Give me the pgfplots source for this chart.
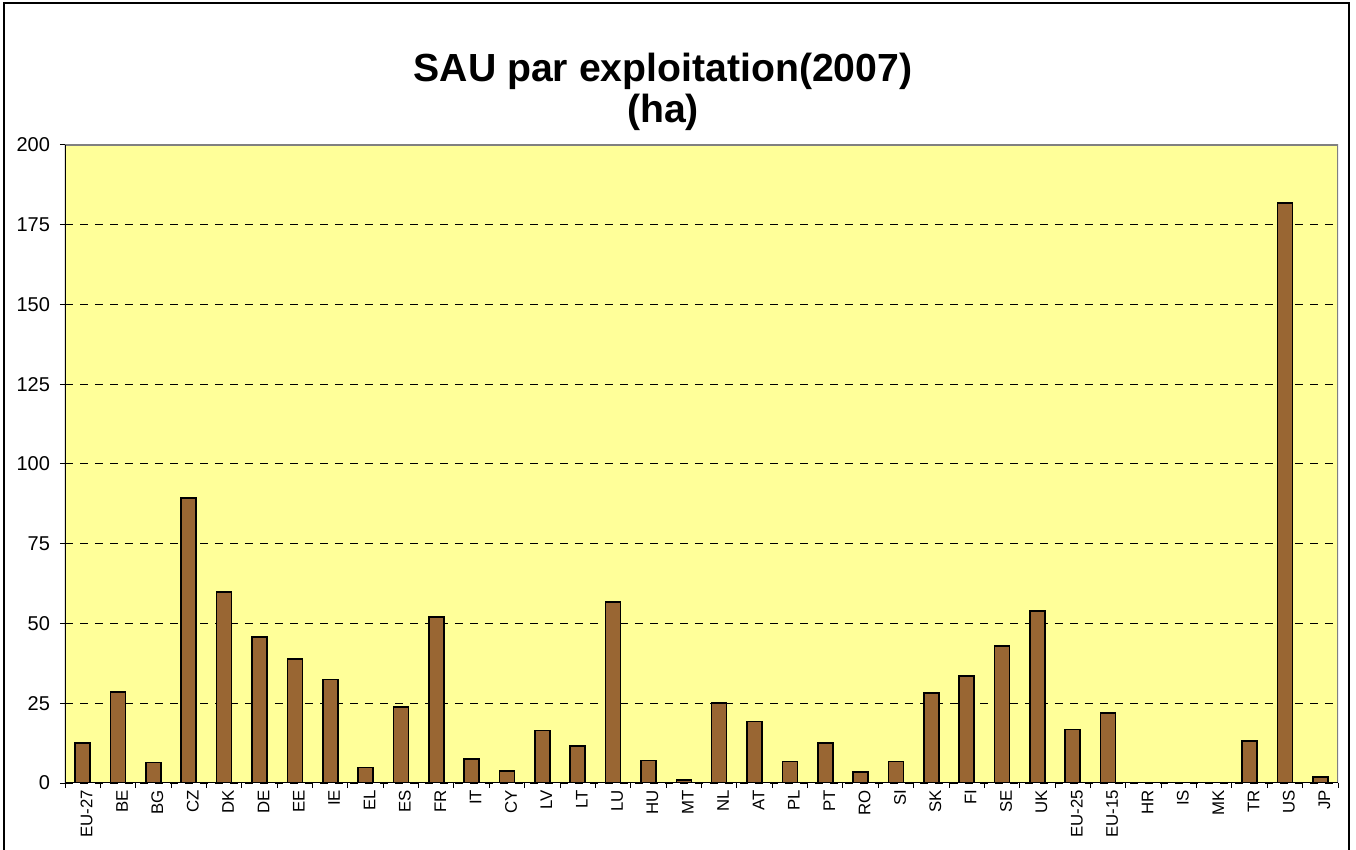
\documentclass[border=0pt]{standalone}
\usepackage{pgfplots}
\pgfplotsset{compat=1.18}
\usepackage{fontspec}
\setmainfont{Liberation Sans}
\definecolor{barbrown}{HTML}{996633}
\definecolor{plotbg}{HTML}{FFFF99}
\definecolor{framegray}{HTML}{808080}

\begin{document}
\begin{tikzpicture}
% page = 1356x850 px at 0.5bp per px
\path[use as bounding box] (0,0) rectangle (678bp,425bp);
\draw[line width=0.7bp] (2bp,0bp) -- (2bp,423.5bp) -- (674.5bp,423.5bp) -- (674.5bp,0bp);
\node[anchor=base, font=\fontsize{19.6bp}{22bp}\selectfont\bfseries] at (331.5bp,384bp) {SAU par exploitation(2007)};
\node[anchor=base, font=\fontsize{19.6bp}{22bp}\selectfont\bfseries] at (331.5bp,363.5bp) {(ha)};
\begin{axis}[
    at={(32.5bp,33.5bp)},
    anchor=south west,
    scale only axis,
    width=636.5bp,
    height=319bp,
    ybar,
    bar width=7.5bp,
    xmin=-0.5, xmax=35.5,
    ymin=0, ymax=200,
    ytick distance=25,
    ymajorgrids,
    major grid style={draw=black, line width=0.5bp, dash pattern=on 4bp off 3.5bp},
    axis background/.style={fill=plotbg},
    axis line style={draw=none},
    tick align=outside,
    xtick pos=bottom, ytick pos=left,
    major tick length=2.5bp,
    tick style={black, line width=0.5bp},
    xtick={-0.5,0.5,...,35.5},
    xticklabels={},
    extra x ticks={0,1,...,35},
    extra x tick labels={EU-27,BE,BG,CZ,DK,DE,EE,IE,EL,ES,FR,IT,CY,LV,LT,LU,HU,MT,NL,AT,PL,PT,RO,SI,SK,FI,SE,UK,EU-25,EU-15,HR,IS,MK,TR,US,JP},
    extra x tick style={major tick length=0pt, grid=none},
    xticklabel style={rotate=90, anchor=east, font=\fontsize{8.4bp}{10bp}\selectfont, yshift=-2bp},
    yticklabel style={font=\fontsize{10bp}{12bp}\selectfont, xshift=-1.5bp},
    /pgf/number format/assume math mode=true,
]
\addplot[fill=barbrown, draw=black, line width=0.8bp] coordinates {
(0,12.6) (1,28.6) (2,6.4) (3,89.3) (4,59.8) (5,45.7) (6,38.9) (7,32.4)
(8,4.8) (9,23.9) (10,52.0) (11,7.6) (12,3.8) (13,16.5) (14,11.6) (15,56.8)
(16,7.0) (17,1.0) (18,25.0) (19,19.3) (20,6.7) (21,12.6) (22,3.5) (23,6.7)
(24,28.2) (25,33.6) (26,42.9) (27,53.9) (28,16.8) (29,22.0)
(33,13.2) (34,181.9) (35,1.8)
};
\draw[framegray, line width=0.6bp] (rel axis cs:0,1) -- (rel axis cs:1,1) -- (rel axis cs:1,0);
\draw[black, line width=0.6bp] (rel axis cs:0,1) -- (rel axis cs:0,0) -- (rel axis cs:1,0);
\end{axis}
\end{tikzpicture}
\end{document}
